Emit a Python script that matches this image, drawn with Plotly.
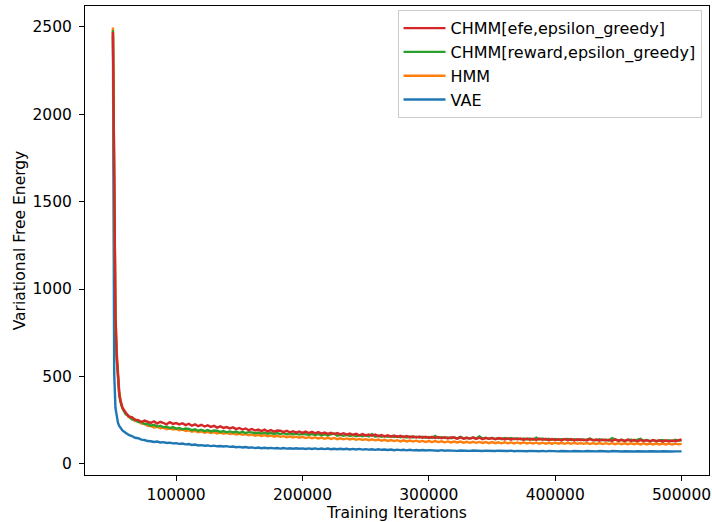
import plotly.graph_objects as go

# ---------------- data ----------------
early_iters = [50000, 51000, 52000, 53000, 54000, 55000, 56000, 57500]
late_iters = list(range(60000, 500001, 2500))
iterations = early_iters + late_iters

vae = [2450, 520, 320, 260, 235, 218, 205, 192,
       179, 166, 160, 150, 147, 139, 137, 131, 130, 126,
       128, 123, 125, 120, 122, 118, 119, 115, 117, 112,
       114, 109, 111, 106, 108, 104, 106, 102, 105, 101,
       103, 100, 102, 98, 100, 96, 98, 94, 97, 93,
       95, 91, 94, 90, 93, 90, 92, 89, 91, 88,
       91, 88, 90, 87, 90, 87, 89, 86, 89, 86,
       89, 85, 88, 85, 88, 84, 87, 84, 87, 84,
       87, 83, 86, 83, 86, 82, 85, 82, 84, 81,
       84, 81, 83, 80, 83, 79, 82, 79, 81, 78,
       81, 78, 80, 77, 80, 77, 79, 77, 79, 76,
       79, 76, 78, 76, 78, 75, 77, 75, 77, 75,
       77, 75, 77, 74, 76, 74, 76, 74, 76, 74,
       76, 74, 76, 73, 75, 73, 75, 73, 75, 73,
       75, 73, 75, 72, 75, 73, 74, 72, 74, 72,
       74, 72, 74, 72, 74, 72, 74, 72, 74, 72,
       74, 72, 73, 71, 74, 72, 73, 71, 73, 71,
       73, 71, 73, 71, 73, 71, 73, 71, 73, 71,
       73, 71, 73, 71, 72, 71, 72]

hmm = [2495, 1450, 880, 640, 500, 410, 365, 325,
       293, 268, 261, 246, 245, 231, 230, 218, 217, 209,
       213, 204, 208, 199, 204, 197, 201, 193, 197, 189,
       193, 185, 189, 182, 186, 179, 184, 177, 182, 175,
       180, 173, 178, 171, 175, 169, 173, 167, 171, 164,
       169, 162, 167, 160, 165, 158, 163, 156, 161, 155,
       159, 153, 158, 151, 156, 150, 155, 148, 153, 147,
       152, 146, 151, 144, 150, 143, 149, 142, 147, 141,
       146, 140, 145, 138, 143, 137, 142, 136, 141, 135,
       140, 133, 138, 132, 137, 131, 136, 129, 135, 129,
       134, 128, 133, 127, 132, 126, 131, 125, 131, 125,
       130, 124, 129, 123, 128, 123, 128, 122, 127, 121,
       127, 121, 126, 120, 125, 119, 125, 119, 124, 118,
       124, 118, 123, 117, 123, 117, 123, 117, 122, 117,
       122, 116, 122, 116, 121, 116, 122, 116, 121, 115,
       121, 115, 121, 115, 120, 115, 120, 114, 120, 114,
       120, 114, 119, 114, 119, 113, 119, 113, 118, 113,
       118, 113, 118, 112, 118, 112, 117, 112, 117, 112,
       117, 112, 116, 111, 116, 112, 115]

chmm_reward = [2480, 1350, 800, 600, 470, 395, 355, 318,
               285, 274, 255, 253, 240, 241, 229, 230, 219, 224,
               214, 219, 210, 214, 205, 211, 202, 206, 198, 203,
               201, 193, 198, 190, 196, 188, 194, 186, 191, 190,
               183, 188, 181, 186, 180, 185, 178, 184, 177, 182,
               181, 175, 180, 174, 179, 173, 178, 172, 177, 171,
               176, 170, 175, 169, 174, 168, 173, 172, 167, 171,
               165, 171, 164, 170, 163, 169, 174, 162, 167, 161,
               166, 160, 165, 159, 164, 158, 163, 157, 171, 156,
               161, 156, 160, 155, 159, 154, 158, 153, 157, 152,
               157, 152, 156, 151, 155, 150, 154, 149, 160, 149,
               153, 148, 152, 147, 151, 146, 155, 147, 150, 145,
               151, 146, 157, 145, 150, 144, 149, 143, 148, 142,
               149, 143, 148, 142, 147, 141, 146, 140, 145, 139,
               150, 140, 145, 139, 144, 138, 143, 137, 142, 141,
               143, 137, 142, 136, 141, 135, 140, 145, 137, 136,
               141, 135, 140, 134, 148, 139, 133, 138, 132, 137,
               139, 133, 138, 144, 132, 137, 131, 136, 130, 135,
               137, 131, 136, 130, 139, 134, 136]

chmm_efe = [2470, 1400, 850, 620, 480, 400, 360, 320,
            295, 271, 268, 253, 251, 240, 248, 242, 235, 244,
            231, 241, 232, 227, 239, 229, 234, 226, 233, 222,
            230, 219, 226, 216, 224, 214, 221, 212, 218, 208,
            215, 206, 211, 203, 209, 199, 206, 197, 203, 193,
            200, 191, 197, 188, 196, 186, 194, 185, 191, 190,
            182, 190, 181, 187, 179, 186, 178, 185, 177, 184,
            175, 182, 174, 180, 172, 178, 171, 177, 169, 176,
            168, 174, 167, 172, 164, 171, 163, 169, 161, 168,
            159, 166, 158, 164, 156, 163, 155, 161, 153, 160,
            152, 158, 151, 157, 150, 156, 149, 155, 148, 154,
            147, 153, 146, 152, 151, 145, 152, 144, 150, 145,
            151, 143, 150, 142, 149, 144, 148, 141, 147, 146,
            140, 147, 139, 146, 141, 145, 138, 146, 139, 144,
            137, 145, 138, 144, 136, 143, 137, 142, 135, 143,
            136, 142, 135, 141, 137, 140, 134, 142, 135, 140,
            133, 140, 134, 139, 132, 140, 133, 138, 131, 139,
            131, 138, 130, 137, 132, 136, 129, 137, 130, 136,
            128, 135, 129, 134, 130, 133, 140]

series_names = ["VAE", "HMM", "CHMM[reward,epsilon_greedy]", "CHMM[efe,epsilon_greedy]"]
series_values = [vae, hmm, chmm_reward, chmm_efe]
series_colors = ["#1f77b4", "#ff7f0e", "#2ca02c", "#d62728"]
legend_ranks = [4, 3, 2, 1]

x_tick_vals = [100000, 200000, 300000, 400000, 500000]
x_tick_text = ["100000", "200000", "300000", "400000", "500000"]
y_tick_vals = [0, 500, 1000, 1500, 2000, 2500]
y_tick_text = ["0", "500", "1000", "1500", "2000", "2500"]

# ---------------- figure ----------------
FONT = "DejaVu Sans"
FS = 15.5
LFS = 16
fig = go.Figure()
for i, (name, vals, col, rk) in enumerate(zip(series_names, series_values, series_colors, legend_ranks)):
    fig.add_trace(go.Scatter(
        x=iterations, y=vals, mode="lines", name=name,
        line=dict(color=col, width=2.4), legendgroup=f"g{i}", legendrank=rk,
    ))

fig.update_layout(
    width=712, height=522,
    margin=dict(l=85, r=3, t=6, b=47),
    plot_bgcolor="white", paper_bgcolor="white",
    font=dict(family=FONT, size=FS, color="black"),
    showlegend=True,
    legend=dict(
        x=0.988, y=0.991, xanchor="right", yanchor="top",
        bgcolor="rgba(255,255,255,0.8)", bordercolor="#cccccc", borderwidth=1,
        traceorder="grouped", tracegroupgap=0, itemwidth=42,
        font=dict(family=FONT, size=LFS, color="black"),
    ),
)
fig.update_xaxes(
    range=[27900, 521700], showgrid=False, zeroline=False,
    showline=True, mirror=True, linecolor="black", linewidth=1,
    ticks="outside", ticklen=5, tickcolor="black",
    tickvals=x_tick_vals, ticktext=x_tick_text,
    title=dict(text="Training Iterations", standoff=10, font=dict(size=FS)),
    automargin=False,
)
fig.update_yaxes(
    range=[-63, 2618], showgrid=False, zeroline=False,
    showline=True, mirror=True, linecolor="black", linewidth=1,
    ticks="outside", ticklen=5, tickcolor="black", ticklabelstandoff=4,
    tickvals=y_tick_vals, ticktext=y_tick_text,
    title=dict(text="Variational Free Energy", standoff=3, font=dict(size=FS)),
    automargin=False,
)

fig.write_html("out.html", config={"displayModeBar": False},
               post_script="document.body.style.margin='0px';")
